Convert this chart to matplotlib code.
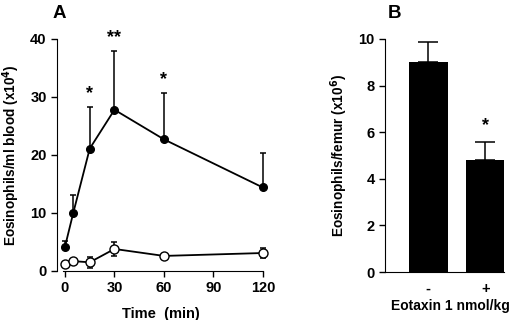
import matplotlib
matplotlib.use("Agg")
import matplotlib.pyplot as plt
import numpy as np

plt.rcParams['font.family'] = ['Liberation Sans', 'DejaVu Sans']
plt.rcParams['font.weight'] = 'bold'

# Panel A data
time = [0, 5, 15, 30, 60, 120]
eotaxin_mean = [4.2, 10.0, 21.1, 27.8, 22.7, 14.4]
eotaxin_err = [1.0, 3.1, 7.2, 10.1, 8.0, 6.0]
control_mean = [1.2, 1.7, 1.5, 3.8, 2.6, 3.1]
control_err = [0.3, 0.3, 1.0, 1.2, 0.3, 0.9]
sig_times = [15, 30, 60]
sig_labels = ['*', '**', '*']

# Panel B data
bar_labels = ['-', '+']
bar_values = [9.0, 4.8]
bar_err = [0.85, 0.8]
bar_sig = ['', '*']

W, H = 520, 320
fig = plt.figure(figsize=(W / 100, H / 100), dpi=100)

def px_axes(l, r, b, t):
    return fig.add_axes([l / W, (H - b) / H, (r - l) / W, (b - t) / H])

# ---- Panel A
axA = px_axes(57, 264.5, 271, 39)
axA.plot(time, eotaxin_mean, color='black', lw=1.3, zorder=3)
axA.errorbar(time, eotaxin_mean,
             yerr=[np.zeros(len(eotaxin_err)), eotaxin_err],
             fmt='o', color='black', ms=5.5, elinewidth=1.1, capsize=2.5,
             capthick=1.1, zorder=4, clip_on=False)
axA.errorbar(time, control_mean, yerr=control_err, fmt='-o', color='black',
             mfc='white', mec='black', ms=6.5, lw=1.3, elinewidth=1.1,
             capsize=2.5, capthick=1.1, zorder=4, clip_on=False)
for t, lab in zip(sig_times, sig_labels):
    i = time.index(t)
    top = eotaxin_mean[i] + eotaxin_err[i]
    axA.text(t, top + 0.8, lab, ha='center', va='bottom', fontsize=13,
             fontweight='bold')
axA.set_xlim(-4.85, 121)
axA.set_ylim(0, 40)
axA.set_xticks([0, 30, 60, 90, 120])
axA.set_yticks([0, 10, 20, 30, 40])
axA.spines['top'].set_visible(False)
axA.spines['right'].set_visible(False)
axA.spines['bottom'].set_bounds(-1.2, 120)
axA.tick_params(direction='out', length=4, width=1, labelsize=10.5)
for lab in axA.get_xticklabels() + axA.get_yticklabels():
    lab.set_fontweight('bold')
axA.set_xlabel('Time  (min)', fontsize=10.5, fontweight='bold', labelpad=8)
axA.set_ylabel('Eosinophils/ml blood (x10$^{\\mathbf{4}}$)', fontsize=9.8,
               fontweight='bold', labelpad=6)
fig.text(53 / W, (H - 13) / H, 'A', fontsize=13.5, fontweight='bold',
         ha='left', va='center')

# ---- Panel B
axB = px_axes(385, 504, 272, 39)
xpos = np.arange(len(bar_values))
axB.bar(xpos, bar_values, width=0.69, color='black', zorder=2)
axB.errorbar(xpos, bar_values, yerr=[np.zeros(len(bar_err)), bar_err],
             fmt='none', ecolor='black', elinewidth=1.1, capsize=7,
             capthick=1.1, zorder=1)
for x, v, e, s in zip(xpos, bar_values, bar_err, bar_sig):
    if s:
        axB.text(x, v + e + 0.3, s, ha='center', va='bottom', fontsize=13,
                 fontweight='bold')
axB.set_xlim(-0.76, 1.33)
axB.set_ylim(0, 10)
axB.set_xticks(xpos)
axB.set_xticklabels(bar_labels)
axB.set_yticks([0, 2, 4, 6, 8, 10])
axB.spines['top'].set_visible(False)
axB.spines['right'].set_visible(False)
axB.tick_params(axis='y', direction='out', length=4, width=1, labelsize=10.5)
axB.tick_params(axis='x', length=0, labelsize=10.5, pad=7)
for lab in axB.get_xticklabels() + axB.get_yticklabels():
    lab.set_fontweight('bold')
axB.set_xlabel('Eotaxin 1 nmol/kg', fontsize=10, fontweight='bold')
axB.xaxis.set_label_coords(0.55, -0.115)
axB.set_ylabel('Eosinophils/femur (x10$^{\\mathbf{6}}$)', fontsize=9.8,
               fontweight='bold', labelpad=6)
fig.text(388 / W, (H - 13) / H, 'B', fontsize=13.5, fontweight='bold',
         ha='left', va='center')

fig.savefig('out.png', dpi=100, facecolor='white')
